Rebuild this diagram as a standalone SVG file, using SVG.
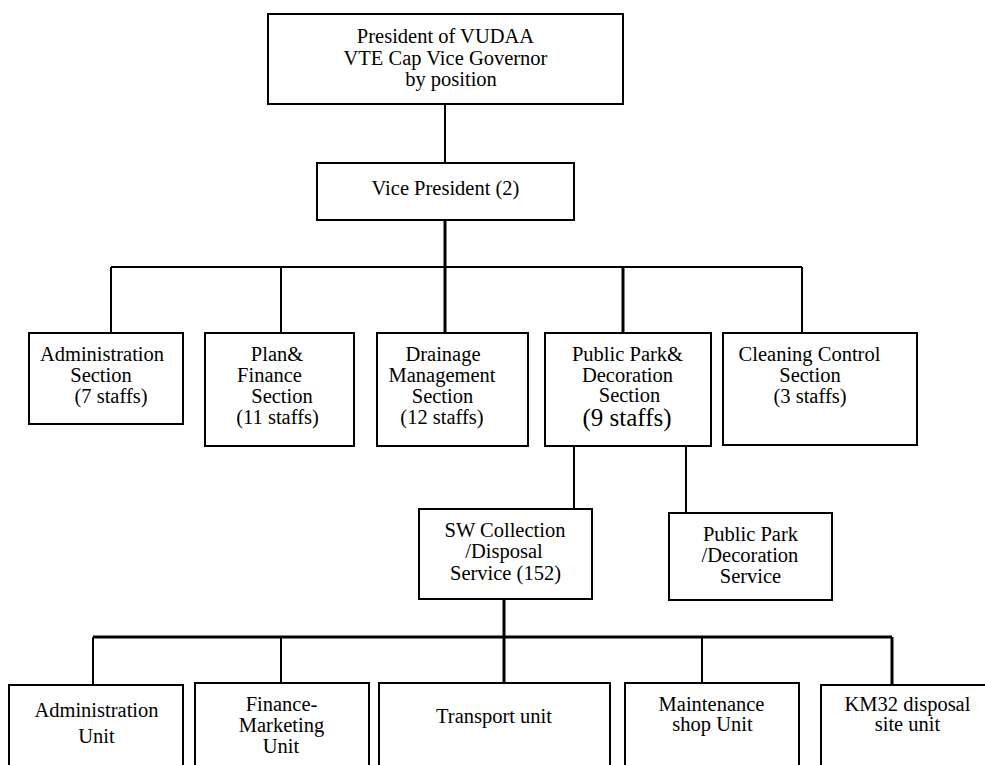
<svg xmlns="http://www.w3.org/2000/svg" width="985" height="765" viewBox="0 0 985 765" font-family="'Liberation Serif', 'DejaVu Serif', 'Times New Roman', serif">
<style>
rect{fill:#fff;stroke:#000;stroke-width:2}
text{font-family:'Liberation Serif','DejaVu Serif','Times New Roman',serif;font-size:20.5px;fill:#000;text-anchor:middle}
.big{font-size:25px}
.c{stroke:#000;stroke-width:2;fill:none}
.t{stroke:#000;stroke-width:3;fill:none}
</style>
<rect x="0" y="0" width="985" height="765" style="fill:#fff;stroke:none"/>
<g id="connectors">
<line class="c" x1="445" y1="104" x2="445" y2="163"/>
<line class="t" x1="445" y1="220" x2="445" y2="333"/>
<line class="c" x1="111" y1="267" x2="802" y2="267"/>
<line class="c" x1="111" y1="267" x2="111" y2="333"/>
<line class="c" x1="281" y1="267" x2="281" y2="333"/>
<line class="t" x1="623" y1="267" x2="623" y2="333"/>
<line class="c" x1="802" y1="267" x2="802" y2="333"/>
<line class="c" x1="574" y1="446" x2="574" y2="509"/>
<line class="c" x1="686" y1="446" x2="686" y2="513"/>
<line class="t" x1="504" y1="599" x2="504" y2="683"/>
<line class="t" x1="93" y1="637" x2="892" y2="637"/>
<line class="c" x1="93" y1="637" x2="93" y2="685"/>
<line class="c" x1="281" y1="637" x2="281" y2="683"/>
<line class="c" x1="702" y1="637" x2="702" y2="683"/>
<line class="t" x1="892" y1="637" x2="892" y2="685"/>
</g>
<g id="president">
<rect x="268" y="14" width="355" height="90"/>
<text x="445.5" y="43">President of VUDAA</text>
<text x="445.5" y="65">VTE Cap Vice Governor</text>
<text x="451" y="86">by position</text>
</g>
<g id="vice-president">
<rect x="317" y="163" width="257" height="57"/>
<text x="445.5" y="195">Vice President (2)</text>
</g>
<g id="admin-section">
<rect x="29" y="333" width="154" height="91"/>
<text x="102" y="361">Administration</text>
<text x="101" y="382">Section</text>
<text x="111" y="403">(7 staffs)</text>
</g>
<g id="plan-finance-section">
<rect x="205" y="333" width="149" height="113"/>
<text x="277" y="361">Plan&amp;</text>
<text x="269.5" y="382">Finance</text>
<text x="282" y="403">Section</text>
<text x="277.5" y="424">(11 staffs)</text>
</g>
<g id="drainage-section">
<rect x="377" y="333" width="151" height="113"/>
<text x="443" y="361">Drainage</text>
<text x="442" y="382">Management</text>
<text x="442.5" y="403">Section</text>
<text x="442" y="424">(12 staffs)</text>
</g>
<g id="park-section">
<rect x="545" y="333" width="166" height="113"/>
<text x="627.5" y="361">Public Park&amp;</text>
<text x="627.5" y="382">Decoration</text>
<text x="629.5" y="402">Section</text>
<text class="big" x="627" y="426">(9 staffs)</text>
</g>
<g id="cleaning-section">
<rect x="723" y="333" width="194" height="112"/>
<text x="809.5" y="361">Cleaning Control</text>
<text x="810" y="382">Section</text>
<text x="810" y="403">(3 staffs)</text>
</g>
<g id="sw-service">
<rect x="419" y="509" width="173" height="90"/>
<text x="505" y="537">SW Collection</text>
<text x="504" y="558">/Disposal</text>
<text x="505.5" y="580">Service (152)</text>
</g>
<g id="park-service">
<rect x="669" y="513" width="163" height="87"/>
<text x="750.5" y="541">Public Park</text>
<text x="750" y="562">/Decoration</text>
<text x="750.5" y="583">Service</text>
</g>
<g id="admin-unit">
<rect x="9" y="685" width="174" height="100"/>
<text x="96.5" y="717">Administration</text>
<text x="96.5" y="743">Unit</text>
</g>
<g id="finance-unit">
<rect x="195" y="683" width="174" height="100"/>
<text x="281.5" y="711">Finance-</text>
<text x="281.5" y="732">Marketing</text>
<text x="281" y="753">Unit</text>
</g>
<g id="transport-unit">
<rect x="379" y="683" width="231" height="100"/>
<text x="494" y="723">Transport unit</text>
</g>
<g id="maintenance-unit">
<rect x="625" y="683" width="174" height="100"/>
<text x="711.5" y="711">Maintenance</text>
<text x="712.5" y="731">shop Unit</text>
</g>
<g id="km32-unit">
<rect x="821" y="685" width="180" height="100"/>
<text x="907.5" y="711">KM32 disposal</text>
<text x="907.5" y="731">site unit</text>
</g>
</svg>
